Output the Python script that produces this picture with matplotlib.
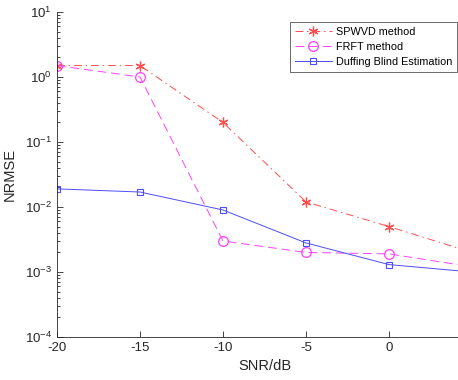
import numpy as np
import matplotlib
matplotlib.use("Agg")
import matplotlib.pyplot as plt
from matplotlib.ticker import LogLocator, FixedLocator

plt.rcParams['font.family'] = ['Liberation Sans', 'DejaVu Sans']
plt.rcParams['mathtext.fontset'] = 'custom'
plt.rcParams['mathtext.rm'] = 'Liberation Sans'
plt.rcParams['mathtext.it'] = 'Liberation Sans'
plt.rcParams['axes.unicode_minus'] = False

# data
snr = [-20, -15, -10, -5, 0, 5]
spwvd = [1.5, 1.5, 0.2, 0.012, 0.005, 0.002]
frft = [1.5, 1.0, 0.003, 0.002, 0.0019, 0.0012]
duffing = [0.019, 0.017, 0.009, 0.0028, 0.0013, 0.001]

fig = plt.figure(figsize=(4.58, 3.8), dpi=100)
# axes run past the right edge (the reference is cropped there)
ax = fig.add_axes([57/458, 43/380, 415/458, 325/380])

ax.semilogy(snr, spwvd, color='#ff4d4d', linestyle='-.', dashes=(8, 4, 1.5, 4),
            marker=(6, 2, 0), markersize=7, markeredgewidth=0.9, linewidth=0.7,
            label='SPWVD method')
ax.semilogy(snr, frft, color='#ff40ff', linestyle='--', dashes=(9, 5), marker='o',
            markersize=7, markerfacecolor='none', markeredgewidth=0.9,
            linewidth=0.7, label='FRFT method')
ax.semilogy(snr, duffing, color='#4d4dff', linestyle='-', marker='s',
            markersize=4.5, markerfacecolor='none', markeredgewidth=0.8,
            linewidth=0.7, label='Duffing Blind Estimation')

ax.set_xlim(-20, 5)
ax.set_ylim(1e-4, 1e1)
ax.xaxis.set_major_locator(FixedLocator([-20, -15, -10, -5, 0]))
ax.yaxis.set_major_locator(LogLocator(base=10, numticks=10))
ax.yaxis.set_minor_locator(LogLocator(base=10, subs=np.arange(2, 10), numticks=20))

for side in ['top', 'right']:
    ax.spines[side].set_visible(False)
for side in ['left', 'bottom']:
    ax.spines[side].set_color('#262626')
    ax.spines[side].set_linewidth(0.6)

ax.tick_params(which='both', direction='in', colors='#262626', labelsize=9.5, width=0.6)
ax.tick_params(which='major', length=4)
ax.tick_params(which='minor', length=2)

ax.set_xlabel('SNR/dB', fontsize=10.5, color='#262626')
ax.set_ylabel('NRMSE', fontsize=10.5, color='#262626', labelpad=6)

leg = ax.legend(loc='upper left', fontsize=7.8,
                frameon=True, fancybox=False, borderpad=0.45, labelspacing=0.45,
                handlelength=3.4, handletextpad=0.4, borderaxespad=0)
leg.set_bbox_to_anchor((290/458, 358/380), transform=fig.transFigure)
leg.get_frame().set_edgecolor('#262626')
leg.get_frame().set_linewidth(0.6)

plt.savefig('out.png', dpi=100)
